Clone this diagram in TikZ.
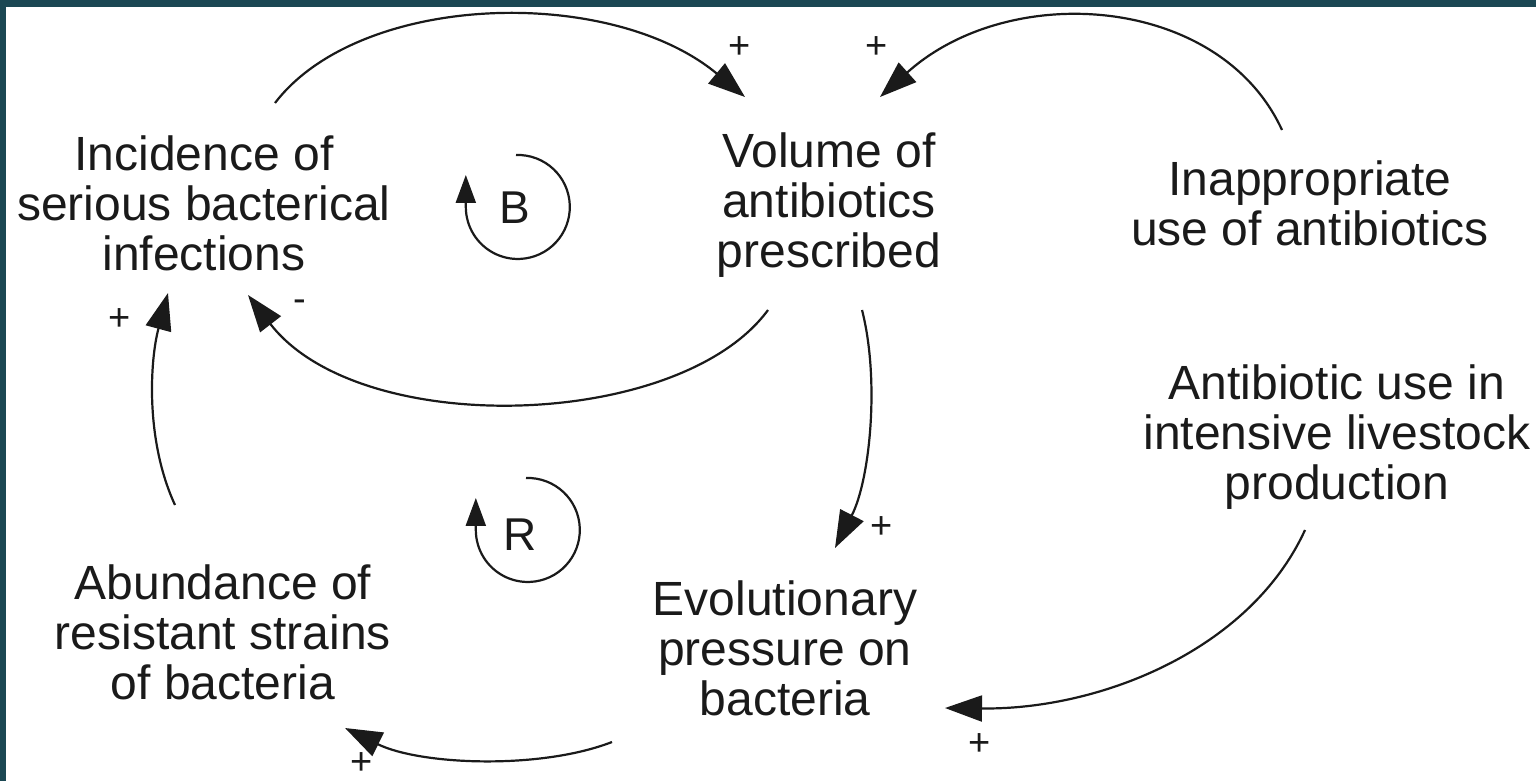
\documentclass[tikz,border=0pt]{standalone}
\usepackage{fontspec}
\setmainfont{Liberation Sans}
\usetikzlibrary{arrows.meta,calc}
\definecolor{tealdark}{HTML}{1B4753}
\definecolor{tealmid}{HTML}{3D7B6E}
\definecolor{ink}{HTML}{1A1A1A}
\begin{document}
\begin{tikzpicture}[x=1pt,y=-1pt,
  lbl/.style={font=\fontsize{48}{50}\selectfont, text=ink, align=center, inner sep=0pt},
  sgn/.style={font=\fontsize{38}{38}\selectfont, text=ink, inner sep=0pt},
  looplbl/.style={font=\fontsize{46}{46}\selectfont, text=ink, inner sep=0pt},
  link/.style={draw=ink, line width=2.2pt, -{Triangle[length=37pt,width=26pt]}},
  looparc/.style={draw=ink, line width=2.2pt, -{Triangle[length=28pt,width=20pt]}}
]
\fill[white] (0,0) rectangle (1536,781);
\useasboundingbox (0,0) rectangle (1536,781);
\shade[left color=tealdark, middle color=tealmid, right color=tealdark] (0,0) rectangle (1536,7);
\fill[tealdark] (0,0) rectangle (6,781);

% variables
\node[lbl] (inc) at (204,203) {Incidence of\\serious bacterical\\infections};
\node[lbl] (vol) at (829,205) {Volume of\\antibiotics\\prescribed};
\node[lbl] (inap) at (1310,203) {Inappropriate\\use of antibiotics};
\node[lbl] (live) at (1337,437) {Antibiotic use in\\intensive livestock\\production};
\node[lbl] (evo) at (785,648) {Evolutionary\\pressure on\\bacteria};
\node[lbl] (abun) at (223,632) {Abundance of\\resistant strains\\of bacteria};

% links
\draw[link] ($(inc)+(71,-100)$) .. controls (360,-8) and (610,-15) .. ($(vol)+(-84,-108)$);
\draw[link] ($(inap)+(-28,-73)$) .. controls (1220,-5) and (1010,-20) .. ($(vol)+(51,-108)$);
\draw[link] ($(vol)+(-61,105)$) .. controls (680,430) and (360,440) .. ($(inc)+(44,92)$);
\draw[link] ($(abun)+(-48,-127)$) .. controls (145,440) and (150,360) .. ($(inc)+(-36,90)$);
\draw[link] ($(vol)+(33,105)$) .. controls (880,380) and (870,480) .. ($(evo)+(50,-100)$);
\draw[link] ($(live)+(-32,93)$) .. controls (1250,650) and (1100,710) .. ($(evo)+(160,60)$);
\draw[link] ($(evo)+(-173,94)$) .. controls (540,770) and (420,765) .. ($(abun)+(122,96)$);

% polarities
\node[sgn] (s1) at (740,48) {+};
\node[sgn] (s2) at (877,48) {+};
\node[sgn] (s3) at (300,306) {-};
\node[sgn] (s4) at (120,320) {+};
\node[sgn] (s5) at (882,528) {+};
\node[sgn] (s6) at (980,745) {+};
\node[sgn] (s7) at (362,764) {+};

% loop markers
\node[looplbl] (B) at (515,208) {B};
\draw[looparc] ($(B)+(1,-53)$) arc[start angle=-92, end angle=180, radius=52] -- ++(0,-32);
\node[looplbl] (R) at (520,535) {R};
\draw[looparc] ($(R)+(6,-57)$) arc[start angle=-92, end angle=180, radius=52] -- ++(0,-32);
\end{tikzpicture}
\end{document}
